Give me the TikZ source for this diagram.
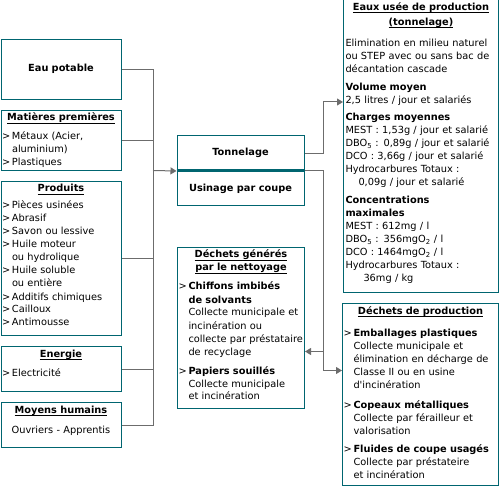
\documentclass[tikz,border=0pt]{standalone}
\usepackage{fontspec}
\setmainfont{DejaVu Sans}
\usetikzlibrary{positioning, arrows.meta}
\definecolor{boxteal}{RGB}{0,101,112}
\definecolor{conngray}{RGB}{108,108,108}
\newsavebox{\ulinebox}
\newcommand{\uword}[1]{\sbox{\ulinebox}{#1}\rlap{\rule[-2.6pt]{\wd\ulinebox}{0.9pt}}\usebox{\ulinebox}}
\newcommand{\boxtitle}[1]{\makebox[\linewidth]{\bfseries\uword{#1}}}
\newcommand{\itm}{\makebox[10pt][l]{>}}
\newcommand{\ind}{\hspace*{10pt}}

\begin{document}
\begin{tikzpicture}[
    x=1pt, y=-1pt,
    box/.style={
      draw=boxteal, line width=1pt, anchor=north west, align=left,
      inner xsep=1pt, inner ysep=3.5pt, text height=7pt,
      font=\fontsize{9.8}{13}\selectfont
    },
    midbox/.style={
      draw=boxteal, line width=1pt, minimum width=127pt, minimum height=34.5pt,
      inner sep=0pt, font=\fontsize{9.8}{13}\selectfont\bfseries
    },
    conn/.style={draw=conngray, line width=1pt},
    arrowtip/.style={-{Triangle[length=6pt,width=7pt]}},
  ]
    \useasboundingbox (0,0) rectangle (500,486);

    % intrants
    \node[box, text width=118pt, align=center, text depth=2pt, minimum height=60pt] (eau) at (0.5,39) {\textbf{Eau potable}};
    \node[box, text width=118pt, text depth=46pt] (matieres) at (0.5,110) {%
      \boxtitle{Matières premières}\\[6pt]
      \itm Métaux (Acier,\\
      \ind aluminium)\\
      \itm Plastiques
    };
    \node[box, text width=118pt, text depth=140pt] (produits) at (0.5,181) {%
      \boxtitle{Produits}\\[4pt]
      \itm Pièces usinées\\
      \itm Abrasif\\
      \itm Savon ou lessive\\
      \itm Huile moteur\\
      \ind ou hydrolique\\
      \itm Huile soluble\\
      \ind ou entière\\
      \itm Additifs chimiques\\
      \itm Cailloux\\
      \itm Antimousse
    };
    \node[box, text width=118pt, text depth=31pt] (energie) at (0.5,346) {%
      \boxtitle{Energie}\\[6pt]
      \itm Electricité
    };
    \node[box, text width=118pt, text depth=31pt] (moyens) at (0.5,402) {%
      \boxtitle{Moyens humains}\\[7pt]
      \makebox[\linewidth]{Ouvriers - Apprentis}
    };

    % poste de travail
    \node[midbox] (tonn) at (240.5,153.25) {Tonnelage};
    \node[midbox, below=0pt of tonn] (usin) {Usinage par coupe};
    \draw[boxteal, line width=3pt] (tonn.south west) -- (tonn.south east);

    % sortants
    \node[box, text width=125pt, text depth=147pt] (nett) at (177,247) {%
      \boxtitle{Déchets générés}\\
      \boxtitle{par le nettoyage}\\[6pt]
      \itm\textbf{Chiffons imbibés}\\
      \ind\textbf{de solvants}\\
      \ind Collecte municipale et\\
      \ind incinération ou\\
      \ind\mbox{collecte par préstataire}\\
      \ind de recyclage\\[6pt]
      \itm\textbf{Papiers souillés}\\
      \ind Collecte municipale\\
      \ind et incinération
    };
    \node[box, text width=151pt, inner xsep=2pt, text depth=278pt] (eaux) at (343,-0.5) {%
      \boxtitle{Eaux usée de production}\\[2pt]
      \boxtitle{(tonnelage)}\\[8pt]
      Elimination en milieu naturel\\
      ou STEP avec ou sans bac de\\
      décantation cascade\\[5pt]
      \textbf{Volume moyen}\\
      2,5 litres / jour et salariés\\[4pt]
      \textbf{Charges moyennes}\\
      MEST : 1,53g / jour et salarié\\
      DBO\textsubscript{5} : 0,89g / jour et salarié\\
      DCO : 3,66g / jour et salarié\\
      Hydrocarbures Totaux :\\
      \hspace*{13pt}0,09g / jour et salarié\\[5pt]
      \textbf{Concentrations}\\
      \textbf{maximales}\\
      MEST : 612mg / l\\
      DBO\textsubscript{5} : 356mgO\textsubscript{2} / l\\
      DCO : 1464mgO\textsubscript{2} / l\\
      Hydrocarbures Totaux :\\
      \hspace*{18pt}36mg / kg
    };
    \node[box, text width=154pt, text depth=168pt] (dechprod) at (342,303) {%
      \boxtitle{Déchets de production}\\[9pt]
      \itm\textbf{Emballages plastiques}\\
      \ind Collecte municipale et\\
      \ind élimination en décharge de\\
      \ind Classe II ou en usine\\
      \ind d\textquotesingle incinération\\[7pt]
      \itm\textbf{Copeaux métalliques}\\
      \ind Collecte par férailleur et\\
      \ind valorisation\\[5pt]
      \itm\textbf{Fluides de coupe usagés}\\
      \ind Collecte par préstateire\\
      \ind et incinération
    };

    % liaisons
    \coordinate (bus) at (153,170.5);
    \foreach \src in {eau,matieres,produits,energie,moyens}
      \draw[conn] (\src.east) -| (bus);
    \draw[conn, arrowtip] (bus) -- (tonn.south west);

    \coordinate (split) at ([xshift=19pt]tonn.south east);
    \coordinate (nettin) at ([yshift=-23.5pt]nett.east);
    \draw[conn, arrowtip] (tonn.east) -- (tonn.east -| split) |- ([yshift=44pt]eaux.west);
    \draw[conn, arrowtip] (tonn.south east) -- (split) |- ([yshift=24pt]dechprod.west);
    \draw[conn, arrowtip] (split |- nettin) -- (nettin);
\end{tikzpicture}
\end{document}
